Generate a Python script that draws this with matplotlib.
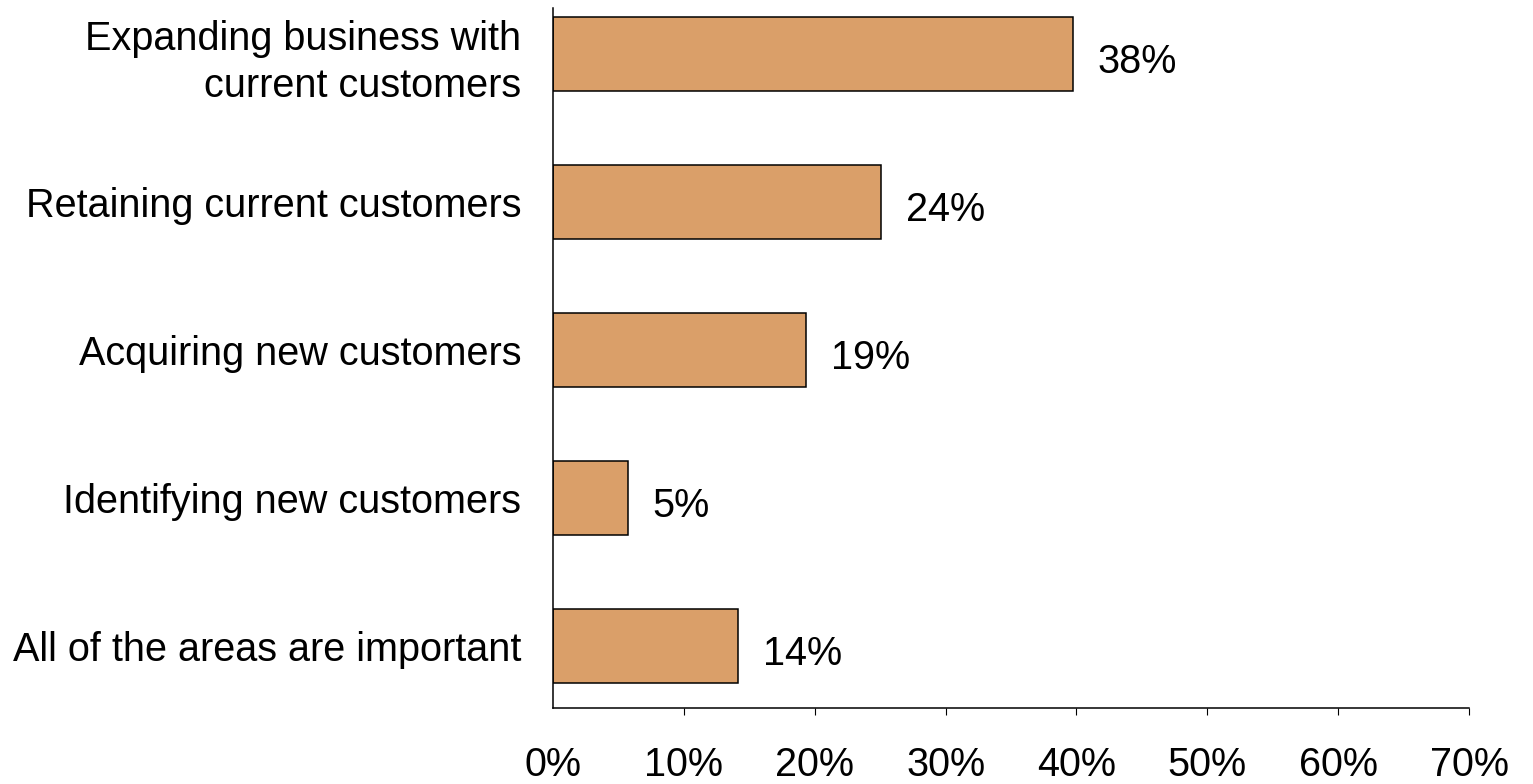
"""
plot.py
Horizontal bar chart: most important customer focus area
"""

import matplotlib
matplotlib.use("Agg")
import matplotlib.pyplot as plt
from matplotlib.ticker import PercentFormatter

# data
CATEGORIES = [
    "Expanding business with\ncurrent customers",
    "Retaining current customers",
    "Acquiring new customers",
    "Identifying new customers",
    "All of the areas are important",
]
VALUES     = [0.397, 0.251, 0.193, 0.057, 0.141]
LABELS     = ["38%", "24%", "19%", "5%", "14%"]
XTICKS     = [0.0, 0.1, 0.2, 0.3, 0.4, 0.5, 0.6, 0.7]

BAR_COLOR  = "#DA9F69"
FONT       = ["Liberation Sans", "DejaVu Sans"]
FS         = 28.5


def main():
    plt.rcParams["font.family"] = FONT
    fig = plt.figure(figsize=(15.33, 7.84), dpi=100)
    ax  = fig.add_axes([553 / 1533, 1 - 708 / 784, (1469 - 553) / 1533, 700 / 784])

    ypos = list(range(len(CATEGORIES)))
    ax.barh(ypos, VALUES, height=0.5, color=BAR_COLOR,
            edgecolor="black", linewidth=1.1)

    for y, v, lab in zip(ypos, VALUES, LABELS):
        ax.annotate(lab, xy=(v, y), xytext=(18, -6), textcoords="offset points",
                    ha="left", va="center", fontsize=FS)

    ax.set_xlim(0, 0.7)
    ax.set_ylim(len(CATEGORIES) - 1 + 0.419, -0.311)
    ax.set_xticks(XTICKS)
    ax.xaxis.set_major_formatter(PercentFormatter(1.0, decimals=0))
    ax.set_yticks(ypos)
    ax.set_yticklabels(CATEGORIES, fontsize=FS, linespacing=1.3)

    ax.tick_params(axis="x", direction="out", length=5, width=0.8,
                   pad=22.5, labelsize=FS)
    ax.tick_params(axis="y", length=0, pad=23)
    ax.xaxis.get_major_ticks()[0].tick1line.set_visible(False)

    for side in ("top", "right"):
        ax.spines[side].set_visible(False)
    for side in ("left", "bottom"):
        ax.spines[side].set_linewidth(1.1)

    fig.savefig("out.png", dpi=100)
    plt.close(fig)


if __name__ == "__main__":
    main()
